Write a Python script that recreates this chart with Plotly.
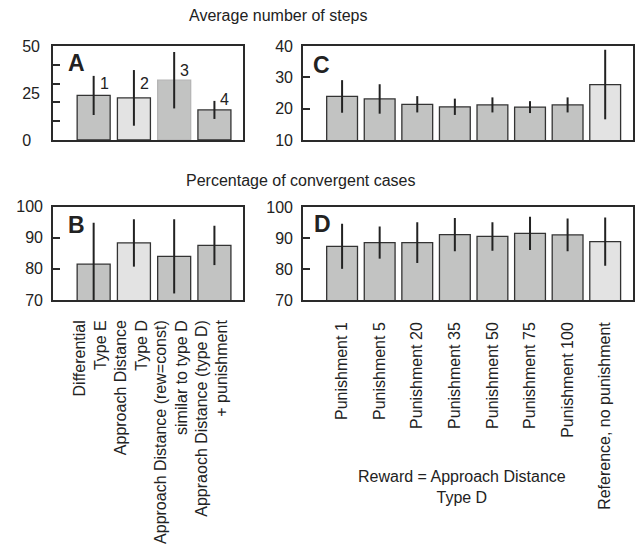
import plotly.graph_objects as go

W, H = 638, 556

# ---- data ----
a_vals = [23.7, 22.4, 31.8, 16.0]
a_err = [10.4, 14.8, 15.0, 4.8]
a_labels = ["1", "2", "3", "4"]
a_label_y = [30.3, 29.8, 37.2, 21.8]
a_ticks = [0, 25, 50]
a_ticktext = ["0\u00a0\u00a0", "25", "50"]

c_vals = [23.9, 23.1, 21.4, 20.6, 21.2, 20.5, 21.2, 27.7]
c_err = [5.2, 4.7, 2.6, 2.6, 2.4, 1.9, 2.4, 11.1]

b_labels = ["Differential<br>Type E", "Approach Distance<br>Type D",
            "Approach Distance (rew=const)<br>similar to type D",
            "Appraoch Distance (type D)<br>+ punishment"]
b_vals = [81.5, 88.3, 84.0, 87.5]
b_err = [13.3, 7.6, 11.9, 6.3]

d_labels = ["Punishment 1", "Punishment 5", "Punishment 20", "Punishment 35",
            "Punishment 50", "Punishment 75", "Punishment 100",
            "Reference, no punishment"]
d_vals = [87.4, 88.6, 88.6, 91.2, 90.6, 91.6, 91.1, 88.9]
d_err = [7.3, 5.2, 6.6, 5.4, 4.6, 5.4, 5.3, 7.8]

# ---- style ----
FONT = "Liberation Sans, Arial, Helvetica, sans-serif"
DARK = "#c2c3c2"
LIGHT = "#e3e3e3"
EDGE = "#333333"
TXT = "#222222"


def px_x(p):
    return p / W


def px_y(p):
    return 1 - p / H


fig = go.Figure()


def add_bars(vals, err, colors, edges, xa, ya):
    fig.add_trace(go.Bar(
        x=list(range(len(vals))), y=vals, xaxis=xa, yaxis=ya,
        marker=dict(color=colors, line=dict(color=edges, width=1.3)),
        error_y=dict(type="data", array=err, symmetric=True,
                     color="#222222", thickness=2, width=0),
        showlegend=False, hoverinfo="skip",
    ))


add_bars(a_vals, a_err, [DARK, LIGHT, DARK, DARK], [EDGE, EDGE, "#b5b5b5", EDGE], "x", "y")
add_bars(c_vals, c_err, [DARK] * 7 + [LIGHT], [EDGE] * 8, "x2", "y2")
add_bars(b_vals, b_err, [DARK, LIGHT, DARK, DARK], [EDGE] * 4, "x3", "y3")
add_bars(d_vals, d_err, [DARK] * 7 + [LIGHT], [EDGE] * 8, "x4", "y4")

axis_line = dict(showline=True, mirror=True, linecolor="#2a2a2a", linewidth=1.6,
                 showgrid=False, zeroline=False, automargin=False)
tickfont = dict(family=FONT, size=16, color=TXT)

dom_A_x = [px_x(53), px_x(243)]
dom_C_x = [px_x(303), px_x(633)]
dom_top_y = [px_y(140), px_y(46)]
dom_bot_y = [px_y(300), px_y(206.5)]

layout = dict(
    width=W, height=H,
    margin=dict(l=0, r=0, t=0, b=0),
    paper_bgcolor="white", plot_bgcolor="white",
    bargap=0.18,
    font=dict(family=FONT, size=16, color=TXT),
    xaxis=dict(domain=dom_A_x, anchor="y", range=[-1.01, 3.71],
               showticklabels=False, ticks="", **axis_line),
    yaxis=dict(domain=dom_top_y, anchor="x", range=[0, 50],
               tickvals=a_ticks, ticktext=a_ticktext, ticks="", tickfont=tickfont,
               ticklabelstandoff=8,
               minor=dict(tickvals=[10, 20, 30, 40], ticks="inside", ticklen=7,
                          tickwidth=1.6, tickcolor="#2a2a2a"),
               **axis_line),
    xaxis2=dict(domain=dom_C_x, anchor="y2", range=[-1.04, 7.74],
                showticklabels=False, ticks="", **axis_line),
    yaxis2=dict(domain=dom_top_y, anchor="x2", range=[10, 40],
                tickvals=[10, 20, 30, 40], ticks="inside", ticklen=7,
                tickwidth=1.6, tickcolor="#2a2a2a", tickfont=tickfont,
                ticklabelstandoff=5, **axis_line),
    xaxis3=dict(domain=dom_A_x, anchor="y3", range=[-1.01, 3.71],
                showticklabels=False, ticks="", **axis_line),
    yaxis3=dict(domain=dom_bot_y, anchor="x3", range=[70, 100],
                tickvals=[70, 80, 90, 100], ticks="inside", ticklen=7,
                tickwidth=1.6, tickcolor="#2a2a2a", tickfont=tickfont,
                ticklabelstandoff=5, **axis_line),
    xaxis4=dict(domain=dom_C_x, anchor="y4", range=[-1.04, 7.74],
                tickvals=list(range(8)), ticktext=d_labels, tickangle=-90,
                ticks="", tickfont=tickfont, ticklabelstandoff=14, **axis_line),
    yaxis4=dict(domain=dom_bot_y, anchor="x4", range=[70, 100.3],
                tickvals=[70, 80, 90, 100], ticks="inside", ticklen=7,
                tickwidth=1.6, tickcolor="#2a2a2a", tickfont=tickfont,
                ticklabelstandoff=5, **axis_line),
)
fig.update_layout(**layout)

annotations = []
# bar number labels in panel A
for i, (t, yv) in enumerate(zip(a_labels, a_label_y)):
    annotations.append(dict(x=i + 0.1, y=yv, xref="x", yref="y", text=t,
                            showarrow=False, xanchor="left", yanchor="middle",
                            font=dict(family=FONT, size=16, color=TXT)))

# rotated, end-aligned category labels for panel B
for i, t in enumerate(b_labels):
    annotations.append(dict(x=i - 0.08, y=px_y(318), xref="x3", yref="paper", text=t,
                            textangle=-90, align="right", showarrow=False,
                            xanchor="center", yanchor="top",
                            font=dict(family=FONT, size=16, color=TXT)))

# panel letters
for letter, xp, yp in [("A", 66, 63), ("C", 311, 65), ("B", 66, 225), ("D", 312, 224)]:
    annotations.append(dict(x=px_x(xp), y=px_y(yp), xref="paper", yref="paper",
                            text="<b>%s</b>" % letter, showarrow=False,
                            xanchor="left", yanchor="middle",
                            font=dict(family=FONT, size=23, color=TXT)))

# section titles
annotations.append(dict(x=px_x(278), y=px_y(15), xref="paper", yref="paper",
                        text="Average number of steps", showarrow=False,
                        xanchor="center", yanchor="middle",
                        font=dict(family=FONT, size=16, color=TXT)))
annotations.append(dict(x=px_x(300), y=px_y(180), xref="paper", yref="paper",
                        text="Percentage of convergent cases", showarrow=False,
                        xanchor="center", yanchor="middle",
                        font=dict(family=FONT, size=16, color=TXT)))
annotations.append(dict(x=px_x(462), y=px_y(487), xref="paper", yref="paper",
                        text="Reward = Approach Distance<br>Type D", showarrow=False,
                        xanchor="center", yanchor="middle", align="center",
                        font=dict(family=FONT, size=16, color=TXT)))
fig.update_layout(annotations=annotations)

fig.write_html("out.html", config={"displayModeBar": False},
               post_script="document.body.style.margin='0';")
